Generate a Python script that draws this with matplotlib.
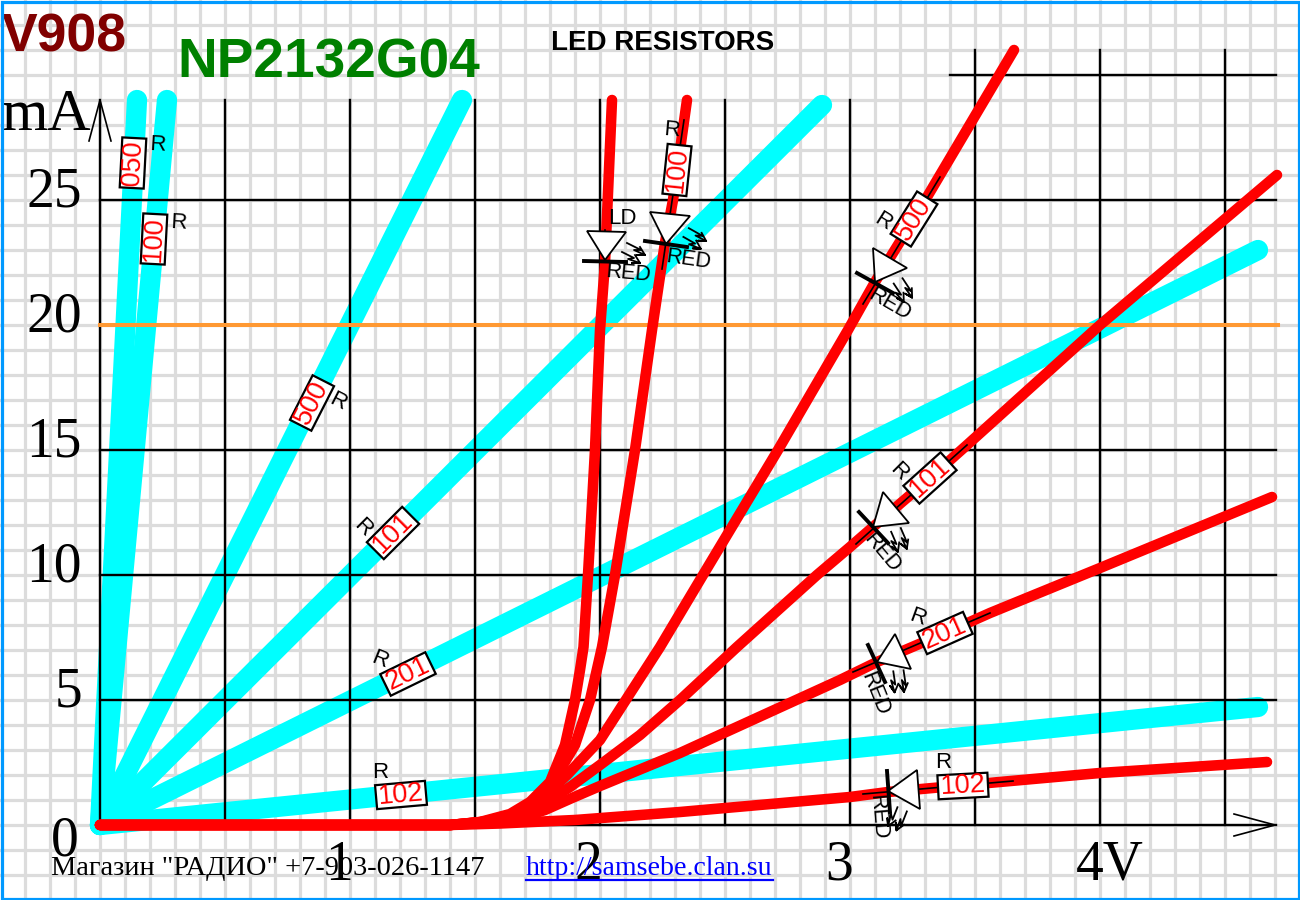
import matplotlib
matplotlib.use("Agg")
import matplotlib.pyplot as plt
from matplotlib.patches import Polygon, Rectangle
from matplotlib.transforms import Affine2D
import numpy as np

# cyan = resistor alone, volts / mA
cyan_v = {
    "050": [0, 0.148],
    "100": [0, 0.268],
    "500": [0, 1.448],
    "101": [0, 2.888],
    "201": [0, 4.632],
    "102": [0, 4.632],
}
cyan_ma = {
    "050": [0, 29],
    "100": [0, 29],
    "500": [0, 29],
    "101": [0, 28.8],
    "201": [0, 23],
    "102": [0, 4.72],
}

# red = LED with resistor
led_v = [0, 1.4, 1.52, 1.64, 1.72, 1.80, 1.86, 1.90, 1.92, 1.934, 1.952, 1.98, 2.0, 2.02, 2.048]
led_ma = [0, 0, 0.12, 0.44, 0.92, 1.72, 3.2, 5.0, 6.2, 7.12, 10, 15, 19.8, 22.5, 29]
r100_v = [0, 1.4, 1.528, 1.66, 1.732, 1.812, 1.90, 1.96, 2.008, 2.06, 2.14, 2.208, 2.26, 2.292, 2.348]
r100_ma = [0, 0, 0.12, 0.44, 0.92, 1.72, 3.2, 5, 7.12, 10, 15, 19.8, 23.3, 25, 29]
r500_v = [0, 1.4, 1.6, 1.74, 1.868, 2.0, 2.24, 2.412, 2.712, 2.992, 3.1, 3.256, 3.656]
r500_ma = [0, 0, 0.2, 0.8, 2, 3.4, 7.12, 10, 15, 19.8, 21.72, 24.24, 31]
r101_v = [0, 1.4, 1.62, 1.76, 1.88, 2.0, 2.16, 2.32, 2.548, 2.868, 3.0, 3.092, 3.32, 3.468, 4.0, 4.708]
r101_ma = [0, 0, 0.2, 0.76, 1.52, 2.4, 3.6, 5.0, 7.12, 10, 11.12, 11.92, 13.88, 15.2, 20, 26]
r201_v = [0, 1.4, 1.64, 1.78, 1.888, 2.0, 2.32, 2.96, 3.108, 3.38, 3.56, 4.0, 4.688]
r201_ma = [0, 0, 0.16, 0.6, 1.08, 1.56, 2.88, 5.8, 6.52, 7.68, 8.48, 10.28, 13.12]
r102_v = [0, 1.4, 1.6, 1.9, 2.32, 3.0, 3.152, 4.0, 4.668]
r102_ma = [0, 0, 0.06, 0.2, 0.52, 1.12, 1.32, 2.08, 2.52]

y_ticks = [5, 10, 15, 20, 25]
x_ticks = [1, 2, 3, 4]
x_labels = ["1", "2", "3", "4V"]

# picture pixels, only for the little component drawings
# label, cx, cy, angle, R x, R y, R rotation
resistors = [
    ("050", 133, 163, 87, 157, 145, -3),
    ("100", 154, 239, 87, 178, 223, -3),
    ("500", 312, 403, 63, 338, 402, -27),
    ("101", 393, 533, 45, 363, 528, -45),
    ("201", 408, 674, 26, 380, 660, -22),
    ("102", 401, 795, 5, 380, 772, 0),
    ("100", 677, 170, 84, 672, 130, -5),
    ("500", 914, 219, 58, 883, 222, -32),
    ("101", 930, 478, 42, 899, 472, -45),
    ("201", 945, 633, 24, 918, 618, -20),
    ("102", 963, 786, 3, 943, 762, 0),
]
# tip, base1, base2, bar1, bar2, RED x, RED y, RED rotation, arrows rotation
diodes = [
    ((605, 260), (587, 231), (626, 232), (584, 261), (626, 262), 628, 273, -5, 0),
    ((666, 244), (650, 212), (690, 216), (645, 241), (687, 247), 688, 260, -8, -3),
    ((875, 282), (873, 248), (907, 268), (857, 273), (893, 293), 890, 305, -30, -30),
    ((873, 527), (883, 492), (909, 523), (859, 512), (888, 543), 882, 553, -50, -40),
    ((877, 662), (895, 634), (911, 669), (868, 645), (885, 682), 875, 694, -68, -55),
    ((888, 791), (917, 770), (920, 809), (887, 771), (890, 812), 878, 817, -85, -85),
]
leads = [
    ((605, 230), (605, 262)),
    ((662, 269), (684, 120)),
    ((863, 304), (940, 177)),
    ((856, 544), (967, 445)),
    ((853, 672), (990, 613)),
    ((863, 794), (1013, 781)),
]
# light arrows, offsets from the diode tip, y up
light_arrows = [
    [(22, 17), (36, 10), (29, 10), (40, 5)],
    [(17, 8), (29, 2), (23, 1), (35, -3)],
]

fig = plt.figure(figsize=(13, 9), dpi=100)
ax = fig.add_axes([0, 0, 1, 1])
ax.set_xlim(-0.4, 4.8)
ax.set_ylim(-3, 33)
ax.axis("off")
fig.patch.set_facecolor("white")

pixels = Affine2D().scale(1, -1).translate(0, 900)
serif = "Liberation Serif"
sans = "Liberation Sans"

# paper grid
for v in np.arange(-0.3, 4.8, 0.1):
    ax.axvline(v, color="#dcdcdc", lw=2.3, zorder=1)
for m in np.arange(-2, 33, 1):
    ax.axhline(m, color="#dcdcdc", lw=2.3, zorder=1)

for k in cyan_v:
    ax.plot(cyan_v[k], cyan_ma[k], color="#00ffff", lw=14.6, solid_capstyle="round", zorder=2)

# black grid
for v in [0, 0.5, 1, 1.5, 2, 2.5, 3]:
    ax.plot([v, v], [0, 29], color="black", lw=1.7, zorder=3)
for v in [3.5, 4, 4.5]:
    ax.plot([v, v], [0, 31], color="black", lw=1.7, zorder=3)
for m in [0, 5, 10, 15, 25]:
    ax.plot([0, 4.704], [m, m], color="black", lw=1.7, zorder=3)
ax.plot([3.4, 4.704], [30, 30], color="black", lw=1.7, zorder=3)
ax.plot([0, 4.712], [20, 20], color="#ff9933", lw=2.9, zorder=4)

for vv, mm in [(led_v, led_ma), (r100_v, r100_ma), (r500_v, r500_ma),
               (r101_v, r101_ma), (r201_v, r201_ma), (r102_v, r102_ma)]:
    ax.plot(vv, mm, color="#ff0000", lw=7.6, solid_capstyle="round", solid_joinstyle="round", zorder=5)

# axis arrows
ax.plot([89, 100, 111], [141, 100, 141], color="black", lw=1.2, transform=pixels, zorder=6)
ax.plot([1234, 1275, 1234], [814, 825, 836], color="black", lw=1.2, transform=pixels, zorder=6)


def turn(u, v, cx, cy, a):
    a = np.radians(a)
    return cx + u * np.cos(a) - v * np.sin(a), cy - (u * np.sin(a) + v * np.cos(a))


for p, q in leads:
    ax.plot([p[0], q[0]], [p[1], q[1]], color="black", lw=1.2, transform=pixels, zorder=6)

for label, cx, cy, a, rx, ry, rr in resistors:
    corners = [turn(u, v, cx, cy, a) for u, v in [(-25, -12), (25, -12), (25, 12), (-25, 12)]]
    ax.add_patch(Polygon(corners, closed=True, fc="white", ec="black", lw=1.6, transform=pixels, zorder=7))
    ax.text(cx, cy, label, color="#ff0000", fontsize=19.5, family=sans, rotation=a, rotation_mode="anchor",
            ha="center", va="center", transform=pixels, zorder=8)
    ax.text(rx, ry, "R", color="black", fontsize=16, family=sans, rotation=rr, rotation_mode="anchor",
            ha="center", va="center", transform=pixels, zorder=8)

for tip, b1, b2, c1, c2, tx, ty, tr, ar in diodes:
    ax.add_patch(Polygon([tip, b1, b2], closed=True, fc="white", ec="black", lw=1.3, transform=pixels, zorder=7))
    ax.plot([c1[0], c2[0]], [c1[1], c2[1]], color="black", lw=2.8, transform=pixels, zorder=8)
    ax.text(tx, ty, "RED", color="black", fontsize=15.5, family=sans, rotation=tr, rotation_mode="anchor",
            ha="center", va="center", transform=pixels, zorder=8)
    for arrow in light_arrows:
        e = arrow[-1]
        pts = arrow + [(e[0] - 8, e[1]), e, (e[0] - 5, e[1] + 8)]
        xy = [turn(u, v, tip[0], tip[1], ar) for u, v in pts]
        ax.plot([i[0] for i in xy], [i[1] for i in xy], color="black", lw=1.3, transform=pixels, zorder=8)
ax.text(622, 219, "LD", color="black", fontsize=16, family=sans, ha="center", va="center", transform=pixels, zorder=8)

# axis numbers
for m in y_ticks:
    ax.annotate(str(m), (0, m), xytext=(-13, -4.5), textcoords="offset points", ha="right", va="baseline",
                fontsize=40, family=serif, color="black", zorder=9)
ax.text(65, 855, "0", fontsize=40, family=serif, ha="center", va="baseline", transform=pixels, color="black", zorder=9)
for v, s in zip(x_ticks, x_labels):
    off = 7.2 if s == "4V" else -8
    ax.annotate(s, (v, 0), xytext=(off, -39.6), textcoords="offset points", ha="center", va="baseline",
                fontsize=40, family=serif, color="black", zorder=9)
ax.text(2, 130, "mA", fontsize=43, family=serif, ha="left", va="baseline", transform=pixels, color="black", zorder=9)

ax.text(2, 52, "V908", fontsize=38.5, family=sans, weight="bold", color="#800000", ha="left", va="baseline",
        transform=pixels, zorder=9)
ax.text(177, 77, "NP2132G04", fontsize=39.6, family=sans, weight="bold", color="#008000", ha="left", va="baseline",
        transform=pixels, zorder=9)
ax.text(551, 50, "LED RESISTORS", fontsize=20, family=sans, weight="bold", color="black", ha="left", va="baseline",
        transform=pixels, zorder=9)
ax.text(51, 875, "Магазин \"РАДИО\" +7-903-026-1147", fontsize=20.4, family=serif, color="black", ha="left",
        va="baseline", transform=pixels, zorder=9)
ax.text(526, 875, "http://samsebe.clan.su", fontsize=20.1, family=serif, color="#0000ff", ha="left", va="baseline",
        transform=pixels, zorder=9)
ax.plot([526, 773], [880, 880], color="#0000ff", lw=1.6, transform=pixels, zorder=9)

# blue frame
ax.add_patch(Rectangle((1.5, 1.5), 1297, 897, fc="none", ec="#0099ff", lw=2.3, transform=pixels, zorder=10))

fig.savefig("out.png", dpi=100)
